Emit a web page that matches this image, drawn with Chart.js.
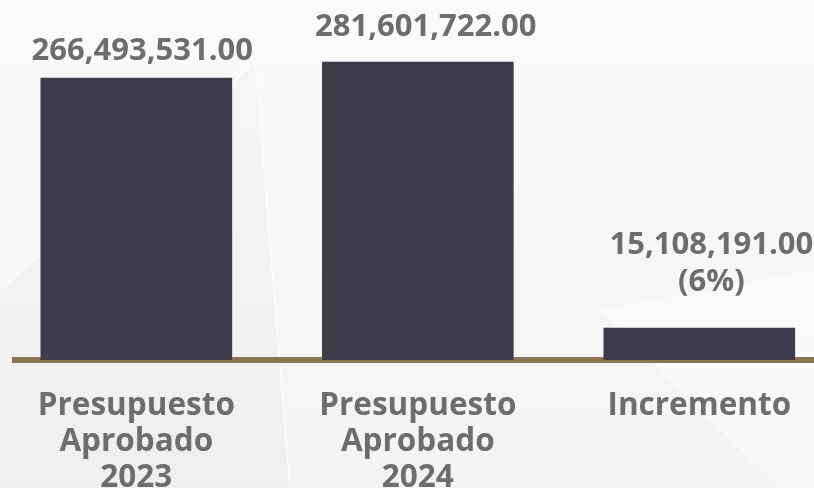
<!DOCTYPE html>
<html>
<head>
<meta charset="utf-8">
<script src="https://cdn.jsdelivr.net/npm/chart.js@4.4.1/dist/chart.umd.min.js"></script>
<style>
  html, body { margin: 0; padding: 0; width: 814px; height: 488px; overflow: hidden; background: #f4f4f4; }
  #wrap { position: relative; width: 814px; height: 488px; }
  canvas { display: block; }
</style>
</head>
<body>
<div id="wrap"><canvas id="c" width="814" height="488"></canvas></div>
<script>
// ---- data ----
const categories = ['Presupuesto Aprobado 2023', 'Presupuesto Aprobado 2024', 'Incremento'];
const categoryLines = [['Presupuesto', 'Aprobado', '2023'], ['Presupuesto', 'Aprobado', '2024'], ['Incremento']];
const values = [266493531, 281601722, 15108191];
const yMax = 340200000;

const fmt = v => v.toLocaleString('en-US', { minimumFractionDigits: 2, maximumFractionDigits: 2 });
const pct = Math.round(values[2] / values[0] * 100);
const valueLabels = [[fmt(values[0])], [fmt(values[1])], [fmt(values[2]), '(' + pct + '%)']];

// ---- style ----
const TEXT = '#6d6d6d';
const BAR = '#3e3c4a';
const AXIS = '#8b7356';
const FONT = '"Open Sans", "Noto Sans", sans-serif';

const backgroundPlugin = {
  id: 'bg',
  beforeDraw(chart) {
    const { ctx, width, height } = chart;
    ctx.save();
    const g = ctx.createLinearGradient(0, 0, 0, height);
    g.addColorStop(0, '#fafafa');
    g.addColorStop(1, '#f3f3f3');
    ctx.fillStyle = g;
    ctx.fillRect(0, 0, width, height);
    ctx.fillStyle = 'rgba(0,0,0,0.015)';
    ctx.beginPath();
    ctx.moveTo(0, 290); ctx.lineTo(255, 62); ctx.lineTo(290, 488); ctx.lineTo(0, 488); ctx.closePath();
    ctx.fill();
    ctx.fillStyle = 'rgba(255,255,255,0.45)';
    ctx.beginPath();
    ctx.moveTo(600, 310); ctx.lineTo(814, 270); ctx.lineTo(814, 488); ctx.lineTo(780, 488); ctx.closePath();
    ctx.fill();
    ctx.strokeStyle = 'rgba(255,255,255,0.7)';
    ctx.lineWidth = 1.2;
    ctx.beginPath();
    ctx.moveTo(255, 62); ctx.lineTo(420, 0);
    ctx.moveTo(255, 62); ctx.lineTo(290, 488);
    ctx.moveTo(255, 62); ctx.lineTo(0, 290);
    ctx.stroke();
    ctx.restore();
  }
};

const valueLabelPlugin = {
  id: 'valueLabels',
  afterDatasetsDraw(chart, args, opts) {
    const meta = chart.getDatasetMeta(0);
    const ctx = chart.ctx;
    ctx.save();
    ctx.font = 'bold ' + opts.size + 'px ' + FONT;
    ctx.fillStyle = opts.color;
    ctx.textAlign = 'center';
    ctx.textBaseline = 'alphabetic';
    meta.data.forEach((bar, i) => {
      const lines = valueLabels[i];
      let y = bar.y - opts.gaps[i];
      for (let j = lines.length - 1; j >= 0; j--) {
        ctx.fillText(lines[j], bar.x + opts.shifts[i], y);
        y -= opts.lineHeight;
      }
    });
    ctx.restore();
  }
};

new Chart(document.getElementById('c'), {
  type: 'bar',
  data: {
    datasets: [{
      data: values.map((v, i) => ({ x: i, y: v })),
      backgroundColor: BAR,
      borderWidth: 0,
      barThickness: 191,
      minBarLength: 32
    }]
  },
  plugins: [backgroundPlugin, valueLabelPlugin],
  options: {
    responsive: false,
    animation: false,
    events: [],
    layout: { padding: { left: 15, right: 0, top: 0, bottom: 0 } },
    plugins: {
      legend: { display: false },
      tooltip: { enabled: false },
      valueLabels: { size: 31, color: TEXT, gaps: [18, 26, 37], shifts: [6, 8, 12], lineHeight: 37 }
    },
    scales: {
      x: {
        type: 'linear',
        offset: false,
        bounds: 'data',
        min: -0.4310,
        max: 2.4074,
        afterBuildTicks: s => { s.ticks = categories.map((_, i) => ({ value: i })); },
        afterFit: s => { s.height = 128; s.paddingLeft = 0; s.paddingRight = 0; },
        grid: { display: false, drawTicks: false, offset: false },
        border: { display: true, color: AXIS, width: 6 },
        ticks: {
          padding: 28,
          color: TEXT,
          autoSkip: false,
          maxRotation: 0,
          font: { family: FONT, weight: 'bold', size: 31.5, lineHeight: 1.14 },
          callback: (v, i) => categoryLines[i]
        }
      },
      y: { display: false, min: 0, max: yMax }
    }
  }
});
</script>
</body>
</html>
